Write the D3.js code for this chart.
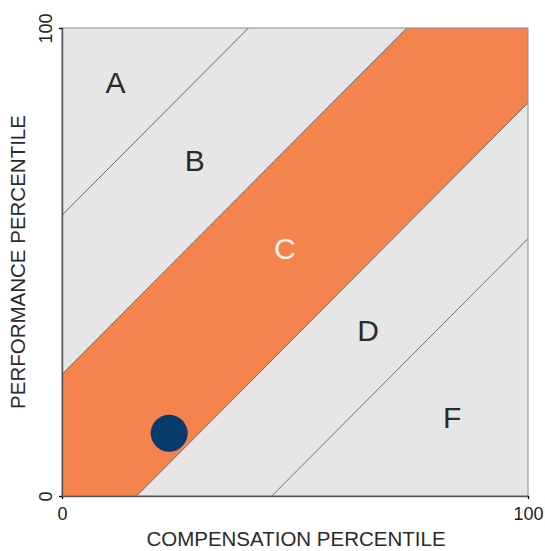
<!DOCTYPE html>
<html>
<head>
<meta charset="utf-8">
<script src="https://cdn.jsdelivr.net/npm/d3@7"></script>
<style>
  body { margin: 0; background: #fff; }
  text { font-family: Arial, "Liberation Sans", sans-serif; }
</style>
</head>
<body>
<script>
// zones and the diagonal lines between them (y = x + offset)
let zoneNames = ["A", "B", "C", "D", "F"]
let zoneLabelX = [11.5, 28.5, 47.8, 65.7, 83.7]
let zoneLabelY = [88.5, 71.8, 53, 35.5, 16.8]
let boundaryOffsets = [60, 26, -16, -45]
let bandZone = "C"   // zone between boundaryOffsets[1] and [2]

let pointX = [23]
let pointY = [13.4]

let tickValues = [0, 100]
let xTitle = "COMPENSATION PERCENTILE"
let yTitle = "PERFORMANCE PERCENTILE"

let width = 545
let height = 551
let margin = { top: 28, right: 17, bottom: 55, left: 62 }
let plotW = width - margin.left - margin.right
let plotH = height - margin.top - margin.bottom

let svg = d3.select("body").append("svg")
    .attr("width", width)
    .attr("height", height)

let xScale = d3.scaleLinear().domain([0, 100]).range([0, plotW])
let yScale = d3.scaleLinear().domain([0, 100]).range([plotH, 0])

svg.append("clipPath")
    .attr("id", "plotclip")
    .append("rect")
    .attr("width", plotW)
    .attr("height", plotH)

let g = svg.append("g")
    .attr("transform", "translate(" + margin.left + "," + margin.top + ")")

let inner = g.append("g").attr("clip-path", "url(#plotclip)")

inner.append("rect")
    .attr("width", plotW)
    .attr("height", plotH)
    .attr("fill", "#e6e6e6")

// orange band between the two middle lines
let hi = boundaryOffsets[1], lo = boundaryOffsets[2]
let band = [[-50, -50 + hi], [150, 150 + hi], [150, 150 + lo], [-50, -50 + lo]]
inner.append("path")
    .attr("d", d3.line().x(d => xScale(d[0])).y(d => yScale(d[1]))(band) + "Z")
    .attr("fill", "#f4834e")

inner.selectAll("line.boundary")
    .data(boundaryOffsets)
    .enter()
    .append("line")
    .attr("class", "boundary")
    .attr("x1", xScale(-50))
    .attr("y1", d => yScale(-50 + d))
    .attr("x2", xScale(150))
    .attr("y2", d => yScale(150 + d))
    .attr("stroke", "#6e6e6e")
    .attr("stroke-width", 1)

g.selectAll("text.zone")
    .data(zoneNames)
    .enter()
    .append("text")
    .attr("class", "zone")
    .attr("x", (d, i) => xScale(zoneLabelX[i]))
    .attr("y", (d, i) => yScale(zoneLabelY[i]))
    .attr("dy", "0.36em")
    .attr("text-anchor", "middle")
    .style("font-size", "30px")
    .attr("fill", d => d == bandZone ? "#fdf3ec" : "#2b2b2b")
    .text(d => d)

g.selectAll("circle.pt")
    .data(pointX)
    .enter()
    .append("circle")
    .attr("class", "pt")
    .attr("cx", d => xScale(d))
    .attr("cy", (d, i) => yScale(pointY[i]))
    .attr("r", 18.5)
    .attr("fill", "#083a6c")

// frame
g.append("rect")
    .attr("width", plotW)
    .attr("height", plotH)
    .attr("fill", "none")
    .attr("stroke", "#8c8c8c")

let xAxis = d3.axisBottom(xScale).tickValues(tickValues).tickSize(3).tickPadding(8)
let yAxis = d3.axisLeft(yScale).tickValues(tickValues).tickSize(3).tickPadding(8)

let xa = g.append("g")
    .attr("transform", "translate(0," + plotH + ")")
    .call(xAxis)
xa.select(".domain").attr("stroke", "#555").attr("stroke-width", 1.5)
xa.selectAll("text").style("font-size", "18px").attr("fill", "#222")

let ya = g.append("g").call(yAxis)
ya.select(".domain").attr("stroke", "#555").attr("stroke-width", 1.5)
ya.selectAll("text")
    .style("font-size", "18px")
    .attr("fill", "#222")
    .attr("text-anchor", "middle")
    .attr("transform", "rotate(-90)")
    .attr("x", 0)
    .attr("dy", 0)
    .attr("y", -10)

g.append("text")
    .attr("x", plotW / 2 + 1)
    .attr("y", plotH + 50)
    .attr("text-anchor", "middle")
    .style("font-size", "20.5px")
    .attr("fill", "#2a2a2a")
    .text(xTitle)

g.append("text")
    .attr("transform", "rotate(-90)")
    .attr("x", -plotH / 2)
    .attr("y", -37)
    .attr("text-anchor", "middle")
    .style("font-size", "20.5px")
    .attr("fill", "#2a2a2a")
    .text(yTitle)
</script>
</body>
</html>
